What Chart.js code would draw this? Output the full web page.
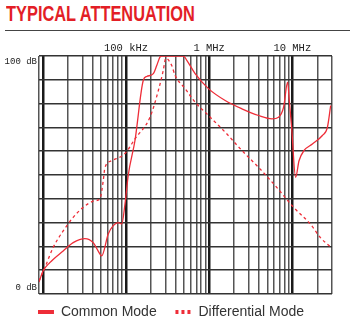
<!DOCTYPE html>
<html>
<head>
<meta charset="utf-8">
<script src="https://cdn.jsdelivr.net/npm/chart.js@4.4.1/dist/chart.umd.min.js"></script>
<style>
  body { margin: 0; width: 350px; height: 330px; background: #fff; position: relative; overflow: hidden; }
  #title { position: absolute; left: 6px; top: 1px; font: bold 22px "Liberation Sans", sans-serif; line-height: 26px; color: #e31e26; white-space: nowrap; transform: scaleX(0.745); transform-origin: 0 0; }
  #rule { position: absolute; left: 5px; right: 0; top: 30px; height: 1px; background: #444; }
  #myChart { position: absolute; left: 0; top: 0; }
</style>
</head>
<body>
<div id="title">TYPICAL ATTENUATION</div>
<div id="rule"></div>
<canvas id="myChart" width="350" height="330"></canvas>
<script>
// frequencies in Hz, attenuation in dB
const cmFreq = [9000, 10080, 12140, 17570, 23180, 32060, 40360, 46380, 50960, 61200, 70300, 80800, 88800, 97300,
    106600, 128300, 161600, 177600, 213300, 234400, 256800, 267700, 490000, 538700, 678000, 981000, 1559000,
    2477000, 3927000, 5690000, 6840000, 7860000, 8780000, 9200000, 9810000, 10960000, 12040000, 13840000,
    17420000, 22980000, 26410000, 28930000];
const cmDb = [5, 9.7, 13.2, 18.1, 21.6, 23.3, 21.6, 18, 16, 25.2, 28.7, 30, 29.4, 37.8,
    50, 64.5, 89.8, 91.4, 92.6, 96, 99.6, 100, 100, 98.2, 92.6, 86.3, 81.3,
    77.8, 75, 73.6, 74.3, 78.5, 89, 81.3, 70, 49, 56, 60.3,
    63, 66.6, 70, 79.2];

const dmFreq = [9000, 10570, 13310, 17570, 23180, 30600, 42300, 48600, 53300, 55800, 67200, 97300, 128300,
    194700, 245000, 281000, 300900, 355000, 389000, 514000, 678000, 981000, 1559000, 2477000, 3927000,
    6240000, 10370000, 16480000, 21740000, 28700000];
const dmDb = [5.5, 11, 19.5, 26.5, 32.2, 36.4, 39.2, 40, 47.6, 53, 56, 59, 65.2,
    74.3, 85.5, 94, 99, 96, 91.9, 86.3, 80.6, 75, 68, 60.3, 53.2,
    45.5, 36.4, 29.4, 23.7, 19.8];

const xTicks = [9e3, 1e4, 2e4, 3e4, 4e4, 5e4, 6e4, 7e4, 8e4, 9e4,
    1e5, 2e5, 3e5, 4e5, 5e5, 6e5, 7e5, 8e5, 9e5,
    1e6, 2e6, 3e6, 4e6, 5e6, 6e6, 7e6, 8e6, 9e6,
    1e7, 2e7, 3e7];
const xTickLabels = { 100000: "100 kHz", 1000000: "1 MHz", 10000000: "10 MHz" };
const yLabels = [[100, "100 dB"], [0, "0 dB"]];

const red = "#ee2d38";
const isDecade = (v) => Math.abs(Math.log10(v) - Math.round(Math.log10(v))) < 1e-6;

const dbLabels = {
    id: "dbLabels",
    afterDraw(chart) {
        const c = chart.ctx;
        const y = chart.scales.y;
        c.save();
        c.font = "9px 'Liberation Mono', monospace";
        c.fillStyle = "#222";
        c.textAlign = "right";
        c.textBaseline = "middle";
        yLabels.forEach(([v, t]) => {
            const off = v === 100 ? 6 : -6;
            c.fillText(t, chart.chartArea.left - 2, y.getPixelForValue(v) + off);
        });
        c.restore();
    },
};

new Chart(document.getElementById("myChart"), {
    type: "line",
    data: {
        datasets: [
            {
                label: "Common Mode",
                data: cmFreq.map((f, i) => ({ x: f, y: cmDb[i] })),
                borderColor: red,
                borderWidth: 1.3,
                pointRadius: 0,
                cubicInterpolationMode: "monotone",
                fill: false,
            },
            {
                label: "Differential Mode",
                data: dmFreq.map((f, i) => ({ x: f, y: dmDb[i] })),
                borderColor: red,
                borderWidth: 1.3,
                borderDash: [3, 3],
                pointRadius: 0,
                cubicInterpolationMode: "monotone",
                fill: false,
            },
        ],
    },
    options: {
        responsive: false,
        animation: false,
        devicePixelRatio: 1,
        layout: { padding: { top: 40, left: 10, right: 18, bottom: 1 } },
        scales: {
            x: {
                type: "logarithmic",
                position: "top",
                min: 9000,
                max: 3e7,
                afterBuildTicks: (s) => { s.ticks = xTicks.map((v) => ({ value: v })); },
                afterFit: (s) => { s.height = 16; },
                ticks: {
                    autoSkip: false,
                    maxRotation: 0,
                    padding: 1,
                    color: "#222",
                    font: { family: "Liberation Mono", size: 10.5 },
                    callback: (v) => xTickLabels[v] || "",
                },
                grid: {
                    drawTicks: false,
                    color: (ctx) => (ctx.tick && isDecade(ctx.tick.value) ? "#1a1a1a" : "#555"),
                    lineWidth: (ctx) => (ctx.tick && isDecade(ctx.tick.value) ? 2.5 : 1.5),
                },
                border: { display: false },
            },
            y: {
                min: 0,
                max: 100,
                afterFit: (s) => { s.width = 29; },
                ticks: { display: false, stepSize: 10 },
                grid: { drawTicks: false, color: "#333", lineWidth: 1.5 },
                border: { display: false },
            },
        },
        plugins: {
            title: { display: false },
            tooltip: { enabled: false },
            legend: {
                position: "bottom",
                labels: {
                    usePointStyle: true,
                    pointStyleWidth: 16,
                    padding: 11,
                    color: "#333",
                    font: { family: "Liberation Sans", size: 14 },
                    generateLabels: (chart) =>
                        chart.data.datasets.map((ds, i) => ({
                            text: i === 0 ? ds.label + "  " : ds.label,
                            pointStyle: "line",
                            strokeStyle: red,
                            fillStyle: red,
                            lineWidth: 4,
                            lineDash: ds.borderDash || [],
                            fontColor: "#333",
                            datasetIndex: i,
                        })),
                },
            },
        },
    },
    plugins: [dbLabels],
});
</script>
</body>
</html>
